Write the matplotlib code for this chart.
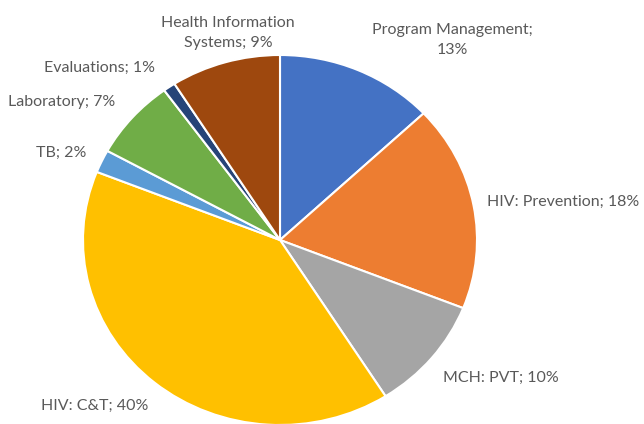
import matplotlib
matplotlib.use("Agg")
import matplotlib.pyplot as plt

categories = ["Program Management", "HIV: Prevention", "MCH: PVT", "HIV: C&T",
              "TB", "Laboratory", "Evaluations", "Health Information Systems"]
shares = [13, 18, 10, 40, 2, 7, 1, 9]
label_texts = ["Program Management;\n13%", "HIV: Prevention; 18%", "MCH: PVT; 10%",
               "HIV: C&T; 40%", "TB; 2%", "Laboratory; 7%", "Evaluations; 1%",
               "Health Information\nSystems; 9%"]
colors = ["#4472C4", "#ED7D31", "#A5A5A5", "#FFC000",
          "#5B9BD5", "#70AD47", "#264478", "#9E480E"]

# label centres in pixels (x from left, y from top)
label_px = [(452, 40), (563, 202), (501, 378), (95, 406),
            (61, 153), (62, 102), (100, 68), (228, 33)]

W, H = 644, 424
fig = plt.figure(figsize=(W / 100, H / 100), dpi=100)
ax = fig.add_axes([0, 0, 1, 1])

cx, cy, rx, ry = 280, 240, 197, 185
ax.pie(shares, colors=colors, startangle=90, counterclock=False,
       wedgeprops={"edgecolor": "white", "linewidth": 1.5})
ax.set_aspect("auto")
ax.set_xlim(-cx / rx, (W - cx) / rx)
ax.set_ylim(-(H - cy) / ry, cy / ry)
ax.axis("off")

for txt, (px, py) in zip(label_texts, label_px):
    fig.text(px / W, 1 - py / H, txt, ha="center", va="center",
             fontsize=11.5, color="#595959", family="Lato", linespacing=1.6)

fig.savefig("out.png", dpi=100, facecolor="white")
